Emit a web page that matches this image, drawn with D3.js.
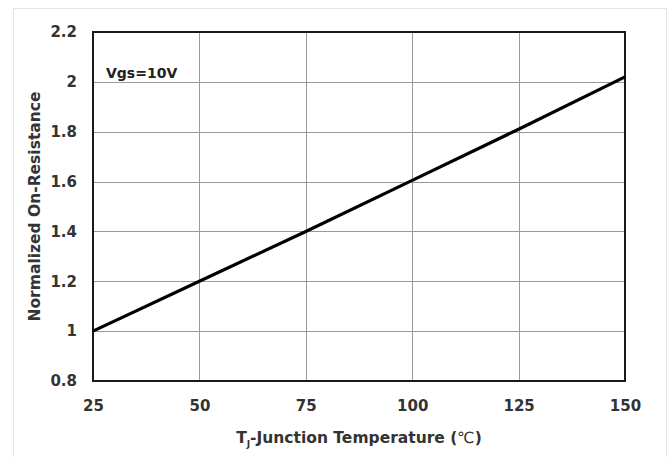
<!DOCTYPE html>
<html><head><meta charset="utf-8">
<script src="https://cdn.jsdelivr.net/npm/d3@7"></script>
<style>body{margin:0;background:#fff}svg{display:block}text{font-family:"DejaVu Sans",sans-serif;font-weight:bold;fill:#333}</style>
</head><body>
<script>
const temps = [25, 50, 75, 100, 125, 150];
const rdson = [1.0, 1.2, 1.4, 1.605, 1.81, 2.02];
const xTicks = [25, 50, 75, 100, 125, 150];
const yTicks = [0.8, 1, 1.2, 1.4, 1.6, 1.8, 2, 2.2];

const W = 672, H = 457;
const m = {l: 93, t: 32, r: 625, b: 381};
const svg = d3.select("body").append("svg").attr("width", W).attr("height", H);
svg.append("rect").attr("x", 13.5).attr("y", 8.5).attr("width", 653).attr("height", 460)
  .attr("fill", "none").attr("stroke", "#e6e6e6");

const x = d3.scaleLinear().domain([25, 150]).range([m.l, m.r]);
const y = d3.scaleLinear().domain([0.8, 2.2]).range([m.b, m.t]);

const g = svg.append("g");
g.selectAll(".vg").data(xTicks).join("line")
  .attr("x1", d => Math.round(x(d)) + 0.5).attr("x2", d => Math.round(x(d)) + 0.5)
  .attr("y1", m.t).attr("y2", m.b).attr("stroke", "#9a9a9a").attr("stroke-width", 1);
g.selectAll(".hg").data(yTicks).join("line")
  .attr("y1", d => Math.round(y(d)) + 0.5).attr("y2", d => Math.round(y(d)) + 0.5)
  .attr("x1", m.l).attr("x2", m.r).attr("stroke", "#9a9a9a").attr("stroke-width", 1);

const xa = svg.append("g").attr("transform", `translate(0,${m.b})`)
  .call(d3.axisBottom(x).tickValues(xTicks).tickSize(0).tickPadding(19).tickFormat(d3.format("d")));
xa.select(".domain").remove();
xa.selectAll("text").style("font-size", "15px");

const ya = svg.append("g").attr("transform", `translate(${m.l},0)`)
  .call(d3.axisLeft(y).tickValues(yTicks).tickSize(0).tickPadding(16).tickFormat(d => d3.format("")(+d.toFixed(1))));
ya.select(".domain").remove();
ya.selectAll("text").style("font-size", "15px");

svg.append("rect").attr("x", m.l).attr("y", m.t).attr("width", m.r - m.l).attr("height", m.b - m.t)
  .attr("fill", "none").attr("stroke", "#1a1a1a").attr("stroke-width", 2);

svg.append("path").datum(temps.map((t, i) => [t, rdson[i]]))
  .attr("d", d3.line().x(d => x(d[0])).y(d => y(d[1])))
  .attr("fill", "none").attr("stroke", "#000").attr("stroke-width", 3.2);

svg.append("text").attr("x", 106).attr("y", 78).style("font-size", "14px").style("fill", "#222").text("Vgs=10V");

const xt = svg.append("text").attr("x", (m.l + m.r) / 2).attr("y", 443).attr("text-anchor", "middle").style("font-size", "15.5px");
xt.append("tspan").text("T");
xt.append("tspan").attr("dy", 4).style("font-size", "9px").text("J");
xt.append("tspan").attr("dy", -4).text("-Junction Temperature (");
xt.append("tspan").style("font-weight", "normal").text("℃");
xt.append("tspan").text(")");

svg.append("text").attr("transform", `translate(40,${(m.t + m.b) / 2}) rotate(-90)`)
  .attr("text-anchor", "middle").style("font-size", "15.5px").text("Normalized On-Resistance");
</script>
</body></html>
